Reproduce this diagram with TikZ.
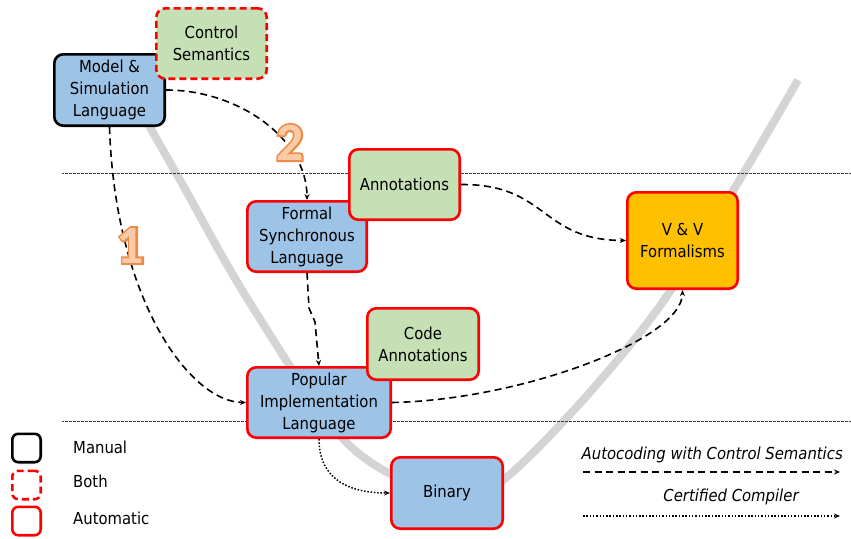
\documentclass[tikz,border=0pt]{standalone}
\usepackage{fontspec}
\setmainfont{DejaVu Sans Condensed}
\newfontfamily\numfont{Carlito Bold}
\newfontfamily\numfontO{Carlito Bold}[FakeBold=7]
\usetikzlibrary{arrows.meta}
\definecolor{blueF}{HTML}{9DC3E6}
\definecolor{greenF}{HTML}{C5E0B4}
\definecolor{orangeF}{HTML}{FFC000}
\definecolor{redB}{HTML}{FF0000}
\definecolor{vgray}{HTML}{D4D4D4}
\definecolor{numstroke}{HTML}{EE8A45}
\definecolor{numfill}{HTML}{F9CBA6}
\begin{document}
\begin{tikzpicture}[x=1pt,y=-1pt,
  txt/.style={font=\fontsize{16.5}{22}\selectfont, inner sep=0pt},
  box/.style={txt, rounded corners=9pt, line width=2.6pt, align=center},
  manualbox/.style={box, draw=black, fill=blueF},
  autoblue/.style={box, draw=redB, fill=blueF},
  autogreen/.style={box, draw=redB, fill=greenF},
  bothgreen/.style={box, draw=redB, fill=greenF, dash pattern=on 7pt off 4pt},
  autoorange/.style={box, draw=redB, fill=orangeF},
  legsq/.style={rounded corners=6pt, line width=2.6pt, minimum width=28.4pt, minimum height=28.4pt, inner sep=0pt},
  conn/.style={line width=1.6pt, dash pattern=on 7pt off 4.5pt, -{Stealth[length=6pt,width=5pt]}},
  cert/.style={line width=1.5pt, dash pattern=on 1.5pt off 1.8pt, -{Stealth[length=6pt,width=5pt]}},
  sep/.style={line width=0.7pt, draw=black!75, dash pattern=on 1.5pt off 1pt on 0.5pt off 1pt},
  numO/.style={inner sep=0pt, text=numstroke, font=\numfontO\fontsize{54}{54}\selectfont},
  numI/.style={inner sep=0pt, text=numfill, font=\numfont\fontsize{54}{54}\selectfont}
]
\useasboundingbox (0,0) rectangle (851,538);
% V curve
\draw[vgray, line width=8pt] plot[smooth, tension=0.55] coordinates {(140,110) (180,180) (250,303) (347,443) (440,492) (507,477) (657,310) (798,80)};
% separators
\coordinate (s1a) at (62,173); \coordinate (s1b) at (851,173);
\coordinate (s2a) at (62,421); \coordinate (s2b) at (851,421);
\draw[sep] (s1a) -- (s1b);
\draw[sep] (s2a) -- (s2b);
% boxes
\node[manualbox, minimum width=110.4pt, minimum height=71.4pt] (model) at (109.5,90) {Model \&\\Simulation\\Language};
\node[bothgreen, minimum width=110.4pt, minimum height=70.4pt] (ctrl) at (211.5,43.5) {Control\\Semantics};
\node[autoblue, minimum width=119.4pt, minimum height=70.4pt] (formal) at (307,236.5) {Formal\\Synchronous\\Language};
\node[autogreen, minimum width=110.4pt, minimum height=70.4pt] (annot) at (404.5,184.5) {Annotations};
\node[autoorange, minimum width=110.4pt, minimum height=96.4pt] (vv) at (682.5,240.5) {V \& V\\Formalisms};
\node[autoblue, minimum width=143.4pt, minimum height=70.4pt] (pop) at (319,402.5) {Popular\\Implementation\\Language};
\node[autogreen, minimum width=111.4pt, minimum height=71.4pt] (code) at (423,344) {Code\\Annotations};
\node[autoblue, minimum width=111.4pt, minimum height=71.4pt] (bin) at (447,493) {Binary};
% connectors
\draw[conn] (model.south) .. controls (115,300) and (190,402) .. (pop.west);
\draw[conn] (model.east) .. controls (240,90) and (307,140) .. (formal.north);
\coordinate (k1) at (309,308); \coordinate (k2) at (315,322);
\draw[conn] (formal.south) -- (k1) -- (k2) -- (pop.north);
\draw[conn] (annot.east) .. controls (548,184) and (540,240) .. (vv.west);
\draw[conn] (pop.east) .. controls (520,400) and (682,340) .. (vv.south);
\draw[cert] (pop.south) .. controls (319,480) and (350,493) .. (bin.west);
% numbers
\node[numO] (n1o) at (130.5,245.5) {1};
\node[numI] (n1) at (130.5,245.5) {1};
\node[numO] (n2o) at (290,142.5) {2};
\node[numI] (n2) at (290,142.5) {2};
% legend left
\node[legsq, draw=black] (lm) at (26.5,448) {};
\node[legsq, draw=redB, dash pattern=on 7pt off 4pt] (lb) at (26.5,485) {};
\node[legsq, draw=redB] (la) at (26.5,521) {};
\node[txt, anchor=west] (tm) at (73,447) {Manual};
\node[txt, anchor=west] (tb) at (73,481) {Both};
\node[txt, anchor=west] (ta) at (73,518) {Automatic};
% legend right
\node[txt, anchor=east, font=\fontsize{16.5}{22}\selectfont\itshape] (lac) at (843,455) {Autocoding with Control Semantics};
\coordinate (d1a) at (583,472); \coordinate (d1b) at (840,472);
\draw[conn] (d1a) -- (d1b);
\node[txt, font=\fontsize{16.5}{22}\selectfont\itshape] (lcc) at (731,497) {Certified Compiler};
\coordinate (d2a) at (583,516); \coordinate (d2b) at (840,516);
\draw[cert] (d2a) -- (d2b);
\end{tikzpicture}
\end{document}
